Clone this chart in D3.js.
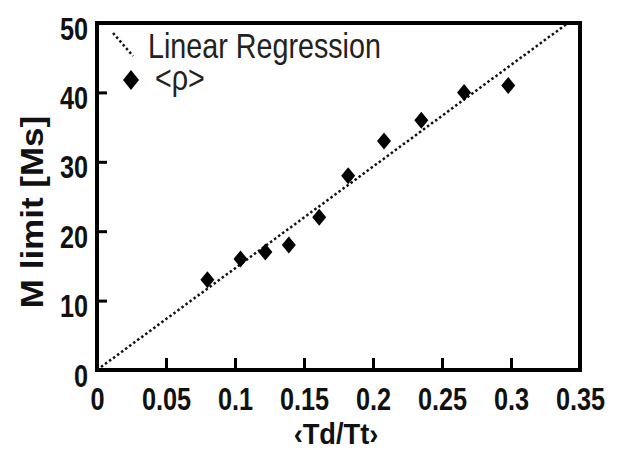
<!DOCTYPE html>
<html>
<head>
<meta charset="utf-8">
<script src="https://cdn.jsdelivr.net/npm/d3@7"></script>
<style>
  body { margin: 0; background: #fff; }
  text { font-family: "Liberation Sans", Arial, sans-serif; }
</style>
</head>
<body>
<div class="chart"></div>
<script>
var width = 623;
var height = 450;

// data
var tdtt = [0.080, 0.104, 0.122, 0.139, 0.161, 0.182, 0.208, 0.235, 0.266, 0.298];
var mlimit = [13, 16, 17, 18, 22, 28, 33, 36, 40, 41];
var regSlope = 146.5;          // Ms per unit <Td/Tt>, fit through origin
var regRange = [0, 0.341];
var xTicks = [0, 0.05, 0.1, 0.15, 0.2, 0.25, 0.3, 0.35];
var yTicks = [0, 10, 20, 30, 40, 50];

var plotL = 97, plotR = 580, plotT = 23, plotB = 370;
var squeeze = 0.79;   // the picture's lettering is narrow

var svg = d3.select(".chart").append("svg")
  .attr("width", width)
  .attr("height", height);

var x = d3.scaleLinear().domain([0, 0.35]).range([plotL, plotR]);
var y = d3.scaleLinear().domain([0, 50]).range([plotB, plotT]);

// frame
svg.append("rect")
  .attr("x", plotL).attr("y", plotT)
  .attr("width", plotR - plotL).attr("height", plotB - plotT)
  .attr("fill", "none")
  .attr("stroke", "#000")
  .attr("stroke-width", 4);

var xAxis = svg.append("g")
  .attr("transform", "translate(0," + plotB + ")")
  .call(d3.axisBottom(x).tickValues(xTicks).tickSizeInner(-12).tickSizeOuter(0)
    .tickFormat(function(d){ return String(+d.toFixed(2)); }));

var yAxis = svg.append("g")
  .attr("transform", "translate(" + plotL + ",0)")
  .call(d3.axisLeft(y).tickValues(yTicks).tickSizeInner(-10).tickSizeOuter(0));

[xAxis, yAxis].forEach(function(a){
  a.select(".domain").remove();
  a.selectAll("line").attr("stroke", "#000").attr("stroke-width", 3);
  a.selectAll("text")
    .attr("fill", "#111")
    .attr("transform", "scale(" + squeeze + ",1)")
    .style("font-size", "32px")
    .style("font-weight", "bold");
});
xAxis.selectAll("text").attr("y", 40).attr("dy", null);
yAxis.selectAll("text").attr("x", -9 / squeeze).attr("dy", "0.5em");

// regression line
var line = d3.line()
  .x(function(d){ return x(d); })
  .y(function(d){ return y(regSlope * d); });

svg.append("path")
  .datum(regRange)
  .attr("d", line)
  .attr("fill", "none")
  .attr("stroke", "#111")
  .attr("stroke-width", 2.5)
  .attr("stroke-dasharray", "2.5,2.5");

// diamonds
var diamond = function(cx, cy, w, h){
  return "M" + cx + "," + (cy - h) + "L" + (cx + w) + "," + cy +
         "L" + cx + "," + (cy + h) + "L" + (cx - w) + "," + cy + "Z";
};

svg.selectAll(".pt")
  .data(d3.zip(tdtt, mlimit))
  .enter().append("path")
  .attr("class", "pt")
  .attr("d", function(d){ return diamond(x(d[0]), y(d[1]), 7, 8.5); })
  .attr("fill", "#000");

// legend
svg.append("line")
  .attr("x1", 113).attr("y1", 33).attr("x2", 133).attr("y2", 56)
  .attr("stroke", "#111").attr("stroke-width", 2.5)
  .attr("stroke-dasharray", "2.5,2.5");

svg.append("text")
  .attr("transform", "translate(148,58) scale(0.82,1)")
  .attr("fill", "#222")
  .style("font-size", "35px")
  .text("Linear Regression");

svg.append("path")
  .attr("d", diamond(131, 80, 8, 10))
  .attr("fill", "#000");

svg.append("text")
  .attr("transform", "translate(155,90) scale(0.82,1)")
  .attr("fill", "#222")
  .style("font-size", "35px")
  .text("<ρ>");

// axis titles
svg.append("text")
  .attr("transform", "translate(336,444) scale(0.94,1)")
  .attr("text-anchor", "middle")
  .attr("fill", "#111")
  .style("font-size", "29px")
  .style("font-weight", "bold")
  .text("‹Td/Tt›");

svg.append("text")
  .attr("transform", "translate(43,212) rotate(-90) scale(1,0.9)")
  .attr("text-anchor", "middle")
  .attr("fill", "#111")
  .style("font-size", "35px")
  .style("font-weight", "bold")
  .text("M limit [Ms]");
</script>
</body>
</html>
